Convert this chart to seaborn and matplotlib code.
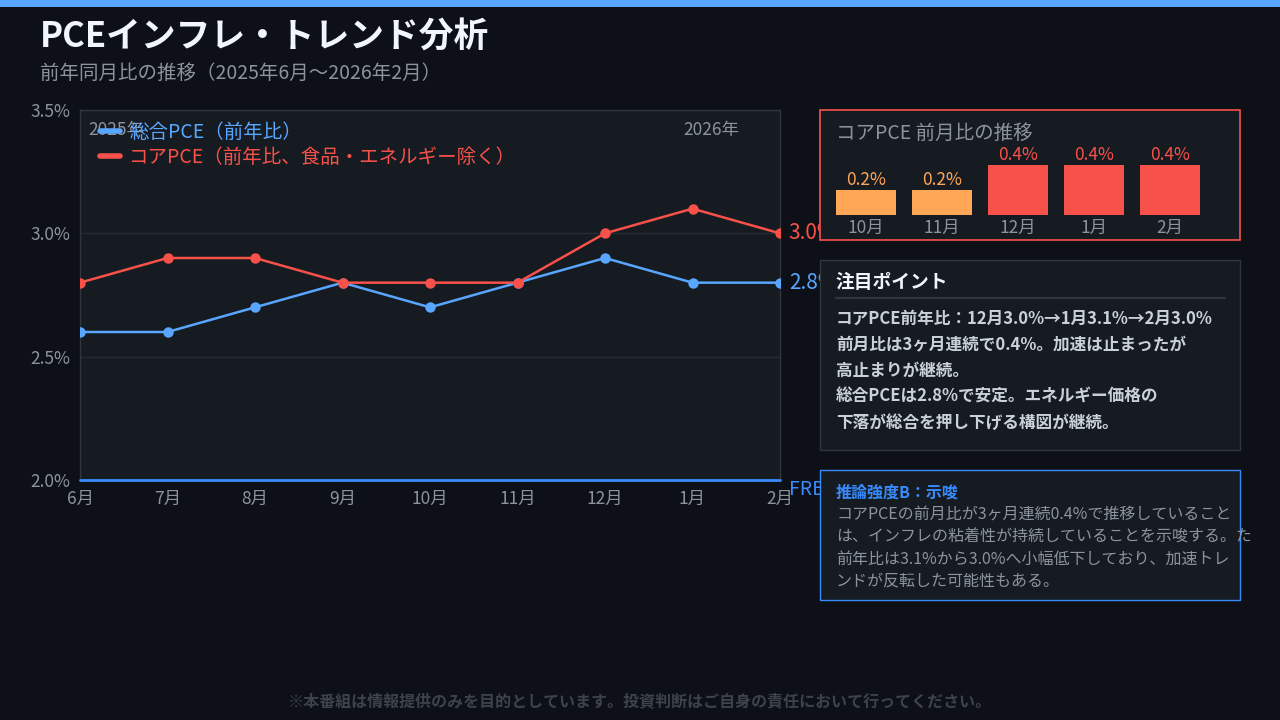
import numpy as np
import pandas as pd
import matplotlib
matplotlib.use('Agg')
import matplotlib.pyplot as plt
import seaborn as sns
from matplotlib.patches import Rectangle
from matplotlib.lines import Line2D
from matplotlib.transforms import Bbox

# data
months = ['6月', '7月', '8月', '9月', '10月', '11月', '12月', '1月', '2月']
headline_pce = [2.6, 2.6, 2.7, 2.8, 2.7, 2.8, 2.9, 2.8, 2.8]
core_pce = [2.8, 2.9, 2.9, 2.8, 2.8, 2.8, 3.0, 3.1, 3.0]
series_names = ['総合PCE（前年比）', 'コアPCE（前年比、食品・エネルギー除く）']
y_ticks = [2.0, 2.5, 3.0, 3.5]

mom_months = ['10月', '11月', '12月', '1月', '2月']
core_mom = [0.2, 0.2, 0.4, 0.4, 0.4]

notes = ['コアPCE前年比：12月3.0%→1月3.1%→2月3.0%',
         '前月比は3ヶ月連続で0.4%。加速は止まったが',
         '高止まりが継続。',
         '総合PCEは2.8%で安定。エネルギー価格の',
         '下落が総合を押し下げる構図が継続。']
inference = ['コアPCEの前月比が3ヶ月連続0.4%で推移していること',
             'は、インフレの粘着性が持続していることを示唆する。ただし',
             '前年比は3.1%から3.0%へ小幅低下しており、加速トレ',
             'ンドが反転した可能性もある。']

BG = '#0d1117'
PANEL = '#161b22'
BLUE = '#58a6ff'
RED = '#f85149'
ORANGE = '#ffa657'
GREY = '#8b949e'
BORDER = '#30363d'

sns.set_theme(style='dark')
plt.rcParams['font.family'] = ['Noto Sans CJK JP', 'DejaVu Sans']
plt.rcParams['axes.unicode_minus'] = False

W, H = 1280, 720
fig = plt.figure(figsize=(12.8, 7.2), dpi=100, facecolor=BG)

def fx(px):
    return px / W

def fy(py):
    return 1 - py / H

# top bar
fig.patches.append(Rectangle((0, fy(7)), 1, 7 / H, transform=fig.transFigure,
                             facecolor=BLUE, edgecolor='none'))

fig.text(fx(40), fy(36), 'PCEインフレ・トレンド分析', color='#f0f6fc', fontsize=25,
         fontweight='bold', va='center')
fig.text(fx(40), fy(73), '前年同月比の推移（2025年6月〜2026年2月）', color=GREY,
         fontsize=14, va='center')

# main chart
ax = fig.add_axes([fx(80), fy(480), fx(780) - fx(80), (480 - 110) / H])
ax.set_facecolor(PANEL)
df = pd.DataFrame({
    'month': list(range(len(months))) * 2,
    'value': headline_pce + core_pce,
    'series': [series_names[0]] * len(months) + [series_names[1]] * len(months),
})
sns.lineplot(data=df, x='month', y='value', hue='series',
             palette={series_names[0]: BLUE, series_names[1]: RED},
             marker='o', markersize=7.5, markeredgewidth=0, linewidth=1.8,
             ax=ax, legend=False, zorder=3)
ax.set_xlim(0, len(months) - 1)
ax.set_ylim(2.0, 3.5)
ax.set_xticks(range(len(months)))
ax.set_xticklabels(months)
ax.set_yticks(y_ticks)
ax.set_yticklabels([f'{v:.1f}%' for v in y_ticks])
ax.set_xlabel('')
ax.set_ylabel('')
ax.tick_params(colors=GREY, labelsize=12.5, length=0)
ax.tick_params(axis='x', pad=7)
ax.tick_params(axis='y', pad=7)
ax.grid(axis='y', color='#262c36', linewidth=1)
ax.grid(axis='x', visible=False)
for s in ['left', 'right', 'top']:
    ax.spines[s].set_color(BORDER)
    ax.spines[s].set_linewidth(1)
ax.spines['bottom'].set_visible(False)
ax.axhline(2.0, color='#388bfd', linewidth=2, clip_on=False, zorder=4)
ax.text(len(months) - 1 + 0.1, 1.96, 'FRB目標 2%', color='#388bfd', fontsize=14,
        va='center', ha='left', clip_on=False)

ax.text(0.1, 3.42, '2025年', color=GREY, fontsize=12.5, va='center')
ax.text(6.9, 3.42, '2026年', color=GREY, fontsize=12.5, va='center')

ax.text(len(months) - 1 + 0.1, core_pce[-1], f'{core_pce[-1]:.1f}%', color=RED,
        fontsize=15, va='center', clip_on=False)
ax.text(len(months) - 1 + 0.1, headline_pce[-1], f'{headline_pce[-1]:.1f}%', color=BLUE,
        fontsize=15, va='center', clip_on=False)

handles = [Line2D([], [], color=BLUE, linewidth=4),
           Line2D([], [], color=RED, linewidth=4)]
leg = ax.legend(handles, series_names, loc='upper left', bbox_to_anchor=(0.012, 1.0),
                frameon=False, fontsize=14, handlelength=1.0, handletextpad=0.5,
                labelspacing=0.2, borderaxespad=0.2)
for t, c in zip(leg.get_texts(), [BLUE, RED]):
    t.set_color(c)

# inset: core MoM
fig.patches.append(Rectangle((fx(820), fy(240)), fx(1240) - fx(820), (240 - 110) / H,
                             transform=fig.transFigure, facecolor=PANEL,
                             edgecolor=RED, linewidth=1.2, zorder=5))
fig.text(fx(836), fy(133), 'コアPCE 前月比の推移', color=GREY, fontsize=14,
         va='center', zorder=6)
bx = fig.add_axes([fx(828), fy(215), fx(1208) - fx(828), 50 / H], zorder=6)
bx.patch.set_alpha(0)
mom_df = pd.DataFrame({'month': mom_months, 'value': core_mom,
                       'level': ['low' if v < 0.3 else 'high' for v in core_mom]})
sns.barplot(data=mom_df, x='month', y='value', hue='level',
            palette={'low': ORANGE, 'high': RED}, width=0.8, ax=bx,
            legend=False, saturation=1, linewidth=0)
bx.set_ylim(0, 0.4)
bx.set_xlim(-0.5, len(mom_months) - 0.5)
bx.set_xlabel('')
bx.set_ylabel('')
bx.set_yticks([])
bx.tick_params(axis='x', colors=GREY, labelsize=12.5, length=0, pad=3)
bx.grid(False)
for s in bx.spines.values():
    s.set_visible(False)
for i, v in enumerate(core_mom):
    bx.text(i, v + 0.01, f'{v:.1f}%', ha='center', va='bottom', fontsize=12.5,
            color=ORANGE if v < 0.3 else RED, clip_on=False)

# notes box
fig.patches.append(Rectangle((fx(820), fy(450)), fx(1240) - fx(820), (450 - 260) / H,
                             transform=fig.transFigure, facecolor=PANEL,
                             edgecolor=BORDER, linewidth=1, zorder=5))
fig.text(fx(836), fy(283), '注目ポイント', color='#f0f6fc', fontsize=13.5,
         fontweight='bold', va='center', zorder=6)
fig.lines.append(Line2D([fx(836), fx(1225)], [fy(298), fy(298)], transform=fig.transFigure,
                        color=BORDER, linewidth=1.5, zorder=6))
for i, line in enumerate(notes):
    fig.text(fx(836), fy(319 + i * 26), line, color='#c9d1d9', fontsize=12,
             fontweight='bold', va='center', zorder=6)

# inference box
fig.patches.append(Rectangle((fx(820), fy(600)), fx(1240) - fx(820), (600 - 470) / H,
                             transform=fig.transFigure, facecolor='#161b22',
                             edgecolor='#388bfd', linewidth=1, zorder=5))
fig.text(fx(836), fy(493), '推論強度B：示唆', color='#388bfd', fontsize=11.5,
         fontweight='bold', va='center', zorder=6)
clip = Bbox([[0, 0], [1250, H]])
for i, line in enumerate(inference):
    t = fig.text(fx(836), fy(515 + i * 22), line, color=GREY, fontsize=11.5,
                 va='center', zorder=6)
    t.set_clip_box(clip)
    t.set_clip_on(True)

fig.text(0.5, fy(701), '※本番組は情報提供のみを目的としています。投資判断はご自身の責任において行ってください。',
         color='#3d434b', fontsize=11.5, fontweight='bold', ha='center', va='center')

fig.savefig('out.png', dpi=100, facecolor=BG)
